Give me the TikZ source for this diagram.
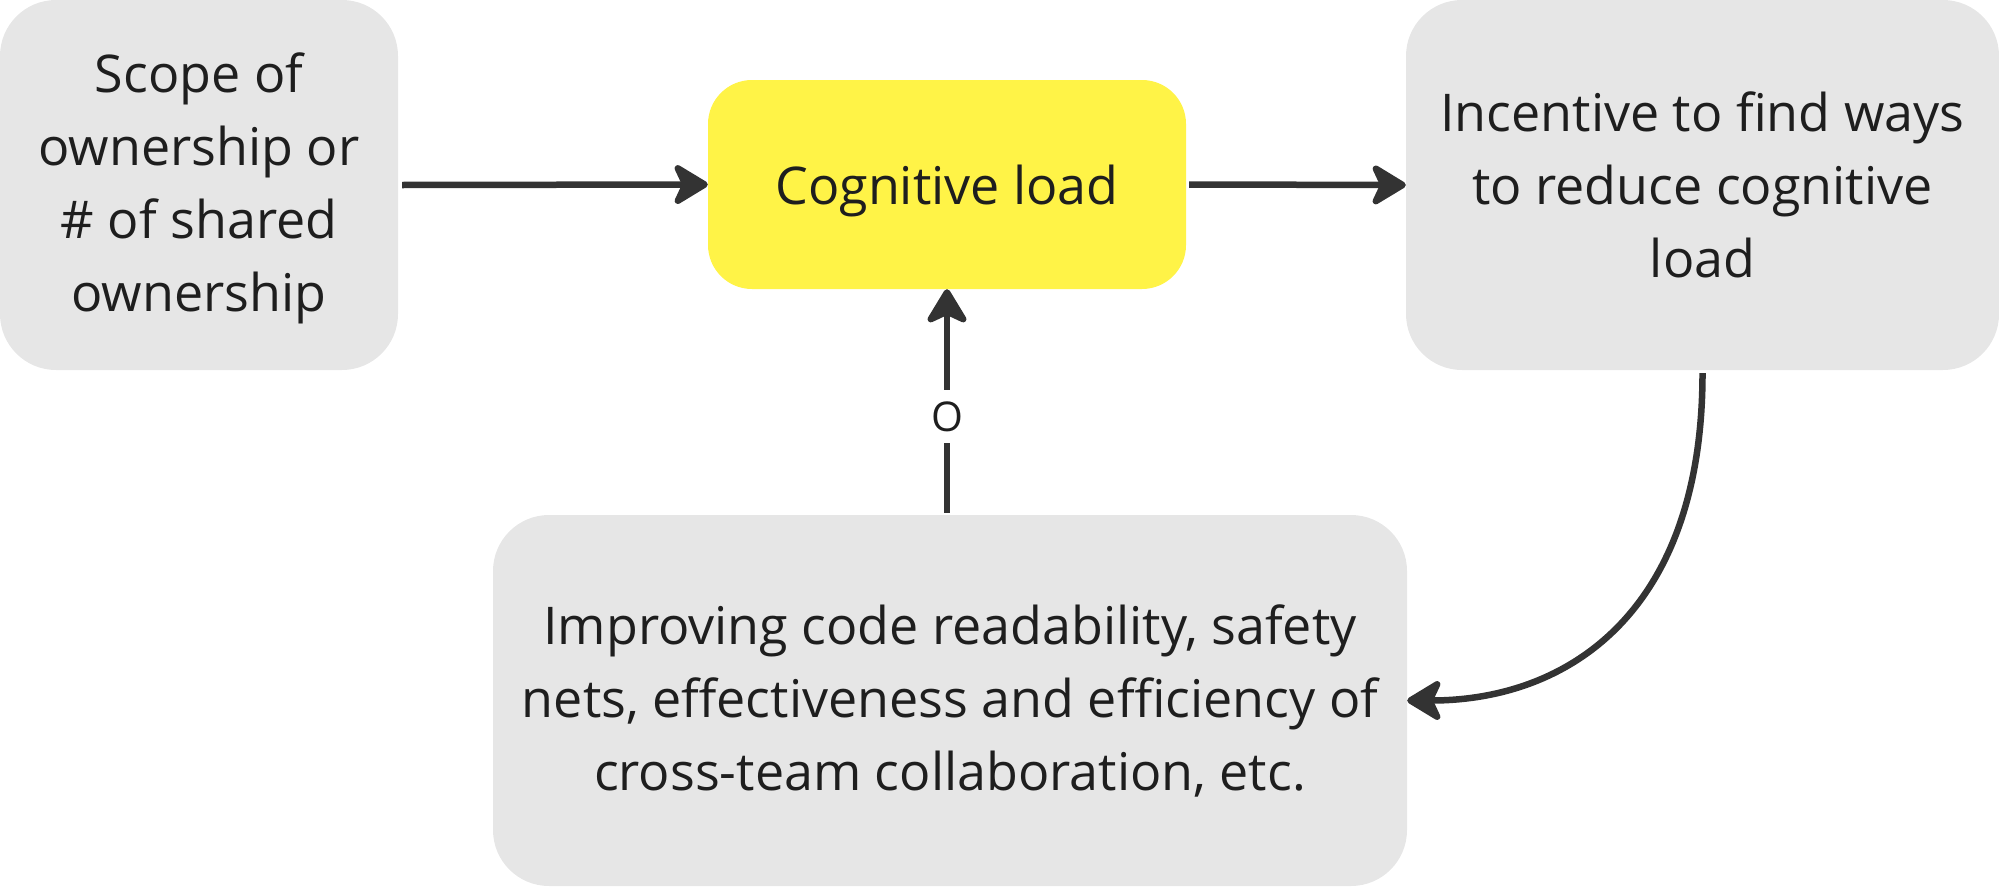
\documentclass[tikz,border=0pt]{standalone}
\usepackage{fontspec}
\setmainfont{Open Sans}
\usetikzlibrary{arrows.meta}
\definecolor{boxgray}{HTML}{E6E6E6}
\definecolor{boxyellow}{HTML}{FFF347}
\definecolor{linedark}{HTML}{333333}
\definecolor{textdark}{HTML}{1E1E1E}
\begin{document}
\begin{tikzpicture}[x=1pt,y=1pt,
  boxstyle/.style={rectangle, rounded corners=56pt, fill=boxgray, draw=none,
    align=center, text=textdark, inner sep=0pt,
    font=\fontsize{52}{73}\selectfont},
  arr/.style={draw=linedark, line width=6.5pt,
    -{Stealth[length=40pt, width=48pt, inset=11pt, round]}},
  lbl/.style={fill=white, text=textdark, font=\fontsize{41}{44}\selectfont,
    inner xsep=4pt, inner ysep=11.5pt, text height=30pt, text depth=0pt}
]
\useasboundingbox (0,0) rectangle (1999,-886);
\node[boxstyle, minimum width=398pt, minimum height=370pt] (A) at (199,-185)
  {\raisebox{-3pt}[\height][\depth]{\parbox{398pt}{\centering Scope of\\ownership or\\\# of shared\\ownership}}};
\node[boxstyle, fill=boxyellow, rounded corners=44pt, minimum width=478pt, minimum height=209pt] (B) at (947,-184.5)
  {\raisebox{-6pt}[\height][\depth]{Cognitive load}};
\node[boxstyle, minimum width=593pt, minimum height=370pt] (C) at (1702.5,-185)
  {Incentive to find ways\\to reduce cognitive\\load};
\node[boxstyle, minimum width=914pt, minimum height=371pt] (D) at (950,-700.5)
  {Improving code readability, safety\\nets, effectiveness and efficiency of\\cross-team collaboration, etc.};
\draw[arr] ([xshift=4pt]A.east) -- (B.west);
\draw[arr] ([xshift=3pt]B.east) -- (C.west);
\draw[arr] ([yshift=2pt]D.north -| B.south) -- node[lbl, pos=0.43] (L) {O} (B.south);
\draw[arr] ([yshift=-3pt]C.south) .. controls +(0,-240) and +(160,0) .. (D.east);
\end{tikzpicture}
\end{document}
